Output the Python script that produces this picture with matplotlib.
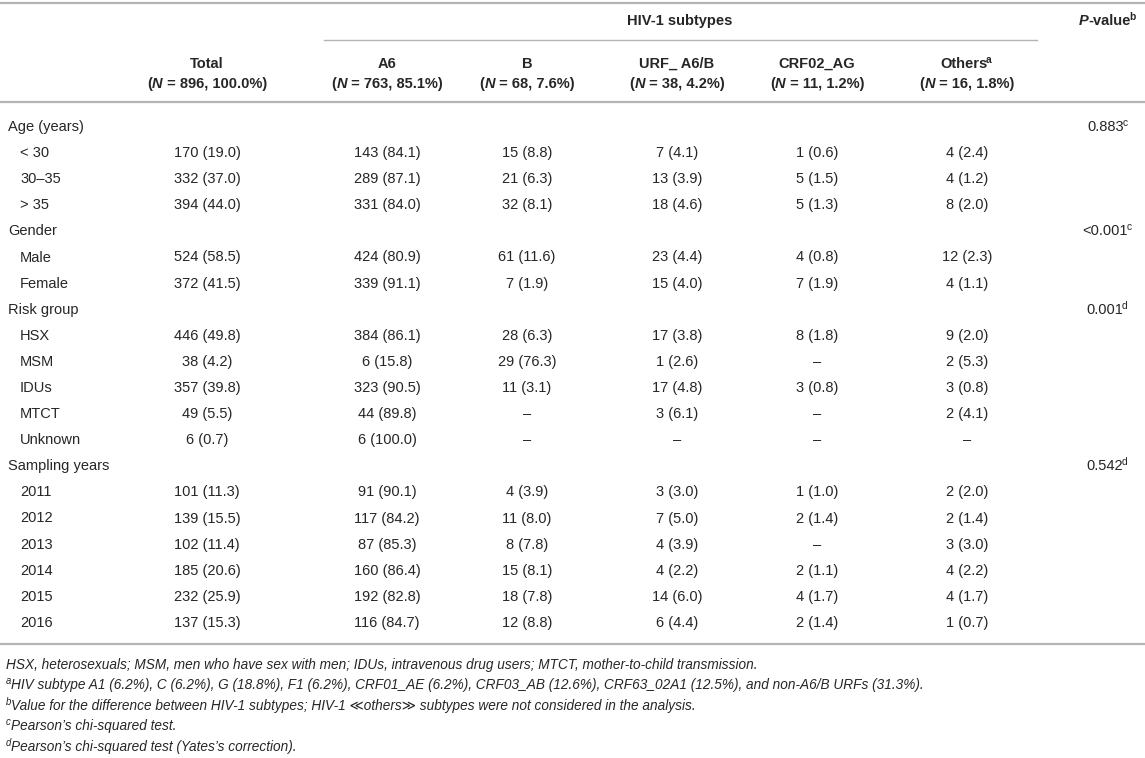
import matplotlib
matplotlib.use("Agg")
import matplotlib.pyplot as plt

plt.rcParams['font.family'] = ['Liberation Sans', 'DejaVu Sans']

# table content
col_names = ["Total", "A6", "B", "URF_ A6/B", "CRF02_AG", "Others"]
col_n = ["896, 100.0%", "763, 85.1%", "68, 7.6%", "38, 4.2%", "11, 1.2%", "16, 1.8%"]

row_labels = ["Age (years)", "< 30", "30–35", "> 35",
              "Gender", "Male", "Female",
              "Risk group", "HSX", "MSM", "IDUs", "MTCT", "Unknown",
              "Sampling years", "2011", "2012", "2013", "2014", "2015", "2016"]
is_group = [True, False, False, False, True, False, False, True, False, False, False,
            False, False, True, False, False, False, False, False, False]

total = ["", "170 (19.0)", "332 (37.0)", "394 (44.0)", "", "524 (58.5)", "372 (41.5)",
         "", "446 (49.8)", "38 (4.2)", "357 (39.8)", "49 (5.5)", "6 (0.7)",
         "", "101 (11.3)", "139 (15.5)", "102 (11.4)", "185 (20.6)", "232 (25.9)", "137 (15.3)"]
a6 = ["", "143 (84.1)", "289 (87.1)", "331 (84.0)", "", "424 (80.9)", "339 (91.1)",
      "", "384 (86.1)", "6 (15.8)", "323 (90.5)", "44 (89.8)", "6 (100.0)",
      "", "91 (90.1)", "117 (84.2)", "87 (85.3)", "160 (86.4)", "192 (82.8)", "116 (84.7)"]
b = ["", "15 (8.8)", "21 (6.3)", "32 (8.1)", "", "61 (11.6)", "7 (1.9)",
     "", "28 (6.3)", "29 (76.3)", "11 (3.1)", "–", "–",
     "", "4 (3.9)", "11 (8.0)", "8 (7.8)", "15 (8.1)", "18 (7.8)", "12 (8.8)"]
urf = ["", "7 (4.1)", "13 (3.9)", "18 (4.6)", "", "23 (4.4)", "15 (4.0)",
       "", "17 (3.8)", "1 (2.6)", "17 (4.8)", "3 (6.1)", "–",
       "", "3 (3.0)", "7 (5.0)", "4 (3.9)", "4 (2.2)", "14 (6.0)", "6 (4.4)"]
crf02 = ["", "1 (0.6)", "5 (1.5)", "5 (1.3)", "", "4 (0.8)", "7 (1.9)",
         "", "8 (1.8)", "–", "3 (0.8)", "–", "–",
         "", "1 (1.0)", "2 (1.4)", "–", "2 (1.1)", "4 (1.7)", "2 (1.4)"]
others = ["", "4 (2.4)", "4 (1.2)", "8 (2.0)", "", "12 (2.3)", "4 (1.1)",
          "", "9 (2.0)", "2 (5.3)", "3 (0.8)", "2 (4.1)", "–",
          "", "2 (2.0)", "2 (1.4)", "3 (3.0)", "4 (2.2)", "4 (1.7)", "1 (0.7)"]
p_values = ["0.883", "", "", "", "<0.001", "", "", "0.001", "", "", "", "", "",
            "0.542", "", "", "", "", "", ""]
p_marks = ["c", "", "", "", "c", "", "", "d", "", "", "", "", "",
           "d", "", "", "", "", "", ""]

footnotes = [
    ("", "HSX, heterosexuals; MSM, men who have sex with men; IDUs, intravenous drug users; MTCT, mother-to-child transmission."),
    ("a", "HIV subtype A1 (6.2%), C (6.2%), G (18.8%), F1 (6.2%), CRF01_AE (6.2%), CRF03_AB (12.6%), CRF63_02A1 (12.5%), and non-A6/B URFs (31.3%)."),
    ("b", "Value for the difference between HIV-1 subtypes; HIV-1 ≪others≫ subtypes were not considered in the analysis."),
    ("c", "Pearson’s chi-squared test."),
    ("d", "Pearson’s chi-squared test (Yates’s correction)."),
]

columns = [total, a6, b, urf, crf02, others]
col_x = [207, 387, 527, 677, 817, 967]
p_x = 1108
fs = 10.5
txt_col = '#262626'
line_col = '#b4b4b4'

fig = plt.figure(figsize=(11.45, 7.58), dpi=100)
ax = fig.add_axes([0, 0, 1, 1])
ax.set_xlim(0, 1145)
ax.set_ylim(758, 0)
ax.axis('off')
renderer = fig.canvas.get_renderer()


def runs(x, y, parts, ha='center', size=fs, **kw):
    # parts: (text, weight, style, superscript)
    made = []
    for s, w, st, sup in parts:
        t = ax.text(0, y - (5 if sup else 0), s, fontsize=size * (0.7 if sup else 1),
                    fontweight=w, fontstyle=st, va='baseline', ha='left',
                    color=txt_col, **kw)
        made.append((t, sup))
    widths = [t.get_window_extent(renderer).width for t, _ in made]
    tot = sum(widths)
    start = x - tot / 2 if ha == 'center' else (x - tot if ha == 'right' else x)
    for (t, sup), w in zip(made, widths):
        if sup and start > x - tot / 2 - 1 and ha != 'left':
            start -= 1.5
        t.set_x(start)
        start += w


# rules
ax.plot([0, 1145], [3, 3], color=line_col, lw=1.6)
ax.plot([324, 1037], [40, 40], color=line_col, lw=1.0)
ax.plot([0, 1145], [102, 102], color=line_col, lw=1.6)

# header
runs(680, 25, [("HIV-1 subtypes", 'bold', 'normal', False)])
runs(p_x, 25, [("P", 'bold', 'italic', False), ("-value", 'bold', 'normal', False),
               ("b", 'bold', 'normal', True)])
for name, n, x in zip(col_names, col_n, col_x):
    if name == "Others":
        runs(x, 68, [(name, 'bold', 'normal', False), ("a", 'bold', 'normal', True)])
    else:
        runs(x, 68, [(name, 'bold', 'normal', False)])
    runs(x, 88, [("(", 'bold', 'normal', False), ("N", 'bold', 'italic', False),
                 (" = " + n + ")", 'bold', 'normal', False)])

# body
y0 = 126
row_h = 26.1
for i, lab in enumerate(row_labels):
    yb = y0 + i * row_h + 5
    ax.text(8 if is_group[i] else 20, yb, lab, fontsize=fs, va='baseline', color=txt_col)
    for col, x in zip(columns, col_x):
        if col[i]:
            ax.text(x, yb, col[i], fontsize=fs, va='baseline', ha='center', color=txt_col)
    if p_values[i]:
        runs(p_x, yb, [(p_values[i], 'normal', 'normal', False),
                       (p_marks[i], 'normal', 'normal', True)])

y_bottom = y0 + (len(row_labels) - 1) * row_h + 22
ax.plot([0, 1145], [y_bottom, y_bottom], color=line_col, lw=1.6)

# footnotes
fy = y_bottom + 25
for mark, note in footnotes:
    parts = []
    if mark:
        parts.append((mark, 'normal', 'italic', True))
    parts.append((note, 'normal', 'italic', False))
    runs(6, fy, parts, ha='left', size=9.8)
    fy += 20.5

fig.savefig("out.png", dpi=100)
